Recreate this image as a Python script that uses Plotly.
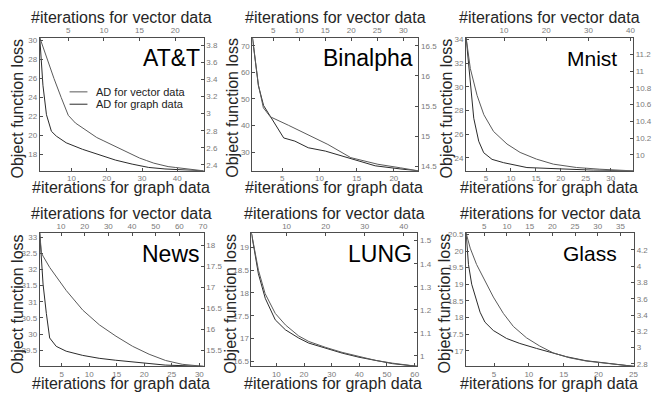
import plotly.graph_objects as go

W, H = 652, 398

# ---------------- data ----------------
panel_names = ["AT&T", "Binalpha", "Mnist", "News", "LUNG", "Glass"]
legend_labels = ["AD for vector data", "AD for graph data"]

# AT&T
att_graph_iter = [1, 1.9, 2.9, 4.3, 5.7, 8.5, 13.1, 17.8, 22.5, 27.2, 31.9, 36.5, 47.5]
att_graph_loss = [30.28, 25.27, 22.17, 20.43, 19.92, 19.22, 18.54, 17.95, 17.40, 16.98, 16.63, 16.47, 16.27]
att_vec_iter = [1, 2, 3, 4, 5, 6, 7, 8, 9, 10, 11, 12, 13, 14, 15, 16, 17, 18, 19, 20, 21, 22, 23, 24]
att_vec_loss = [3.89, 3.64, 3.41, 3.19, 2.98, 2.89, 2.83, 2.77, 2.72, 2.68, 2.64, 2.60, 2.56, 2.52,
                2.48, 2.45, 2.42, 2.40, 2.38, 2.37, 2.36, 2.35, 2.34, 2.33]

# Binalpha
bin_graph_iter = [1, 1.8, 2.5, 3.4, 5.2, 6.7, 8.5, 10.8, 13.9, 17.5, 21.1, 23.3]
bin_graph_loss = [73.1, 55.0, 47.5, 43.5, 35.3, 34.1, 31.6, 30.35, 27.9, 24.8, 23.55, 22.9]
bin_vec_iter = [1, 2.15, 3.1, 4.44, 7.9, 11.7, 15.5, 19.9, 25.1, 29.5, 32.9]
bin_vec_loss = [16.64, 15.85, 15.47, 15.32, 15.18, 15.02, 14.86, 14.64, 14.53, 14.47, 14.42]

# Mnist
mn_graph_iter = [1, 1.87, 2.53, 3.53, 4.53, 6.2, 8.53, 13.2, 19.9, 26.5, 34.5]
mn_graph_loss = [34.15, 30.12, 27.34, 25.4, 24.43, 23.87, 23.59, 23.18, 23.04, 22.96, 22.9]
mn_vec_iter = [1, 2.0, 3.6, 5.2, 7.5, 10.7, 13.8, 17.7, 21.7, 27.2, 32.7, 40.6]
mn_vec_loss = [11.4, 11.03, 10.71, 10.48, 10.28, 10.13, 10.03, 9.95, 9.89, 9.85, 9.83, 9.81]

# News
nw_graph_iter = [1, 1.6, 2.2, 2.8, 4.0, 5.8, 8.8, 11.8, 14.8, 17.8, 20.8, 23.8, 30.8]
nw_graph_loss = [33.13, 31.55, 30.64, 29.88, 29.62, 29.47, 29.34, 29.25, 29.19, 29.14, 29.08, 29.04, 29.0]
nw_vec_iter = [1, 1.7, 2.4, 5.2, 12.2, 19.2, 26.2, 33.2, 40.2, 47.2, 54.2, 61.2, 70.3]
nw_vec_loss = [18.3, 17.83, 17.75, 17.48, 16.93, 16.46, 16.11, 15.84, 15.6, 15.41, 15.26, 15.17, 15.12]

# LUNG
lg_graph_iter = [1, 3.5, 6.0, 9.6, 13.3, 18.1, 21.7, 27.8, 33.8, 39.9, 46, 52, 61]
lg_graph_loss = [19.31, 18.42, 17.88, 17.41, 17.19, 17.01, 16.9, 16.79, 16.68, 16.59, 16.52, 16.45, 16.39]
lg_vec_iter = [1, 2.8, 4.5, 7.1, 9.7, 13.1, 15.7, 19.9, 24.2, 28.5, 32.8, 37.1, 43.5]
lg_vec_loss = [1.533, 1.371, 1.27, 1.184, 1.134, 1.086, 1.062, 1.037, 1.015, 0.997, 0.98, 0.968, 0.954]

# Glass
gl_graph_iter = [1, 1.34, 1.8, 2.5, 3.0, 3.7, 4.9, 6.8, 8.7, 11.1, 13.5, 15.4, 18.2, 21.1, 25.1]
gl_graph_loss = [20.54, 19.59, 19.0, 18.5, 18.16, 17.86, 17.61, 17.37, 17.22, 17.07, 16.92, 16.82, 16.70, 16.62, 16.53]
gl_vec_iter = [1, 1.9, 3.3, 5.2, 7.0, 9.2, 11.4, 14.3, 17.2, 20.2, 23.8, 27.5, 31.9, 38]
gl_vec_loss = [4.405, 4.22, 4.02, 3.82, 3.62, 3.42, 3.26, 3.12, 3.02, 2.935, 2.875, 2.835, 2.81, 2.77]

graph_series = [(att_graph_iter, att_graph_loss), (bin_graph_iter, bin_graph_loss),
                (mn_graph_iter, mn_graph_loss), (nw_graph_iter, nw_graph_loss),
                (lg_graph_iter, lg_graph_loss), (gl_graph_iter, gl_graph_loss)]
vector_series = [(att_vec_iter, att_vec_loss), (bin_vec_iter, bin_vec_loss),
                 (mn_vec_iter, mn_vec_loss), (nw_vec_iter, nw_vec_loss),
                 (lg_vec_iter, lg_vec_loss), (gl_vec_iter, gl_vec_loss)]

# tick values: bottom x, top x, left y, right y
bottom_ticks = [[10, 20, 30, 40], [5, 10, 15, 20], [5, 10, 15, 20, 25, 30],
                [5, 10, 15, 20, 25, 30], [10, 20, 30, 40, 50, 60], [5, 10, 15, 20, 25]]
top_ticks = [[5, 10, 15, 20], [5, 10, 15, 20, 25, 30], [10, 20, 30, 40],
             [10, 20, 30, 40, 50, 60, 70], [10, 20, 30, 40], [5, 10, 15, 20, 25, 30, 35]]
left_ticks = [[18, 20, 22, 24, 26, 28, 30], [30, 40, 50, 60, 70], [24, 26, 28, 30, 32, 34],
              [29.5, 30, 30.5, 31, 31.5, 32, 32.5, 33], [16.5, 17, 17.5, 18, 18.5, 19],
              [17, 17.5, 18, 18.5, 19, 19.5, 20, 20.5]]
right_ticks = [[2.4, 2.6, 2.8, 3, 3.2, 3.4, 3.6, 3.8], [14.5, 15, 15.5, 16, 16.5],
               [10, 10.2, 10.4, 10.6, 10.8, 11, 11.2], [15.5, 16, 16.5, 17, 17.5, 18],
               [1, 1.1, 1.2, 1.3, 1.4, 1.5], [2.8, 3, 3.2, 3.4, 3.6, 3.8, 4, 4.2]]

# axis ranges
bottom_range = [[1, 47.5], [1, 23.3], [1, 34.5], [1, 30.8], [1, 61], [1, 25.1]]
top_range = [[1, 24], [1, 32.9], [1, 40.6], [1, 70.3], [1, 43.5], [1, 38]]
left_range = [[16.27, 30.28], [22.9, 73.1], [22.9, 34.15], [29.0, 33.13], [16.39, 19.31], [16.53, 20.54]]
right_range = [[2.33, 3.89], [14.42, 16.64], [9.81, 11.4], [15.12, 18.3], [0.954, 1.533], [2.77, 4.405]]

# ---------------- layout geometry (pixels) ----------------
boxes = [(40, 205, 35, 170), (254, 421, 35, 170), (469, 637, 35, 170),
         (40, 205, 233, 368), (253, 420, 233, 368), (469, 638, 233, 368)]
ylab_offset = [22.5, 20, 20, 22.5, 20.5, 21.5]
name_right = [203, 418, 623, 203, 417, 623]
name_size = [23, 23, 21, 23, 23, 21]

FONT = "Liberation Sans, Arial, Helvetica, sans-serif"
GRAPH_COL = "#2b2b2b"
VEC_COL = "#5a5a5a"
AX_COL = "#4d4d4d"


def px(x):
    return x / W


def py(y):
    return 1 - y / H


fig = go.Figure()
layout = dict(width=W, height=H, margin=dict(l=0, r=0, t=0, b=0),
              paper_bgcolor="white", plot_bgcolor="rgba(0,0,0,0)", showlegend=False,
              font=dict(family=FONT))
annotations = []
shapes = []

common = dict(showgrid=False, zeroline=False, showline=True, linecolor=AX_COL, linewidth=1,
              ticks="inside", ticklen=3, tickcolor=AX_COL, tickwidth=1,
              tickfont=dict(size=8, color="#7a7a7a", family=FONT), fixedrange=True)


def fmt(v):
    return f"{v:g}"


for i in range(6):
    x0, x1, y0, y1 = boxes[i]
    bx, tx = 2 * i + 1, 2 * i + 2
    ly, ry = 2 * i + 1, 2 * i + 2
    dom_x = [px(x0), px(x1)]
    dom_y = [py(y1), py(y0)]

    layout[f"xaxis{bx}"] = dict(common, domain=dom_x, anchor=f"y{ly}", side="bottom",
                                range=bottom_range[i], tickvals=bottom_ticks[i],
                                ticktext=[fmt(v) for v in bottom_ticks[i]])
    layout[f"xaxis{tx}"] = dict(common, anchor=f"y{ry}", side="top", overlaying=f"x{bx}",
                                range=top_range[i], tickvals=top_ticks[i],
                                ticktext=[fmt(v) for v in top_ticks[i]])
    layout[f"yaxis{ly}"] = dict(common, domain=dom_y, anchor=f"x{bx}", side="left",
                                range=left_range[i], tickvals=left_ticks[i],
                                ticktext=[fmt(v) for v in left_ticks[i]])
    layout[f"yaxis{ry}"] = dict(common, anchor=f"x{tx}", side="right", overlaying=f"y{ly}",
                                range=right_range[i], tickvals=right_ticks[i],
                                ticktext=[fmt(v) for v in right_ticks[i]])

    gx, gy = graph_series[i]
    vx, vy = vector_series[i]
    fig.add_trace(go.Scatter(x=vx, y=vy, mode="lines", name=legend_labels[0],
                             line=dict(color=VEC_COL, width=1),
                             xaxis=f"x{tx}", yaxis=f"y{ry}"))
    fig.add_trace(go.Scatter(x=gx, y=gy, mode="lines", name=legend_labels[1],
                             line=dict(color=GRAPH_COL, width=1),
                             xaxis=f"x{bx}", yaxis=f"y{ly}"))

    cx = (x0 + x1) / 2
    annotations.append(dict(text="#iterations for vector data", x=px(cx), y=py(y0 - 20),
                            xref="paper", yref="paper", xanchor="center", yanchor="middle",
                            showarrow=False, font=dict(size=16, color="#262626", family=FONT)))
    annotations.append(dict(text="#iterations for graph data", x=px(cx - 1), y=py(y1 + 17),
                            xref="paper", yref="paper", xanchor="center", yanchor="middle",
                            showarrow=False, font=dict(size=16, color="#262626", family=FONT)))
    annotations.append(dict(text="Object function loss", x=px(x0 - ylab_offset[i]),
                            y=py((y0 + y1) / 2 + 4), textangle=-90,
                            xref="paper", yref="paper", xanchor="center", yanchor="middle",
                            showarrow=False, font=dict(size=16, color="#262626", family=FONT)))
    annotations.append(dict(text=panel_names[i], x=px(name_right[i]), y=py(y0 + 21),
                            xref="paper", yref="paper", xanchor="right", yanchor="middle",
                            showarrow=False, font=dict(size=name_size[i], color="#000000", family=FONT)))

# legend of AT&T panel
leg_rows = [90, 102.5]
leg_cols = [VEC_COL, GRAPH_COL]
for k in range(2):
    shapes.append(dict(type="line", xref="paper", yref="paper", x0=px(70), x1=px(88),
                       y0=py(leg_rows[k]), y1=py(leg_rows[k]),
                       line=dict(color=leg_cols[k], width=1)))
    annotations.append(dict(text=legend_labels[k], x=px(95), y=py(leg_rows[k]),
                            xref="paper", yref="paper", xanchor="left", yanchor="middle",
                            showarrow=False, font=dict(size=11, color="#222222", family=FONT)))

layout["annotations"] = annotations
layout["shapes"] = shapes
fig.update_layout(**layout)
fig.write_html("out.html", config={"displayModeBar": False, "staticPlot": True},
               post_script="document.body.style.margin='0';document.body.style.overflow='hidden';")
